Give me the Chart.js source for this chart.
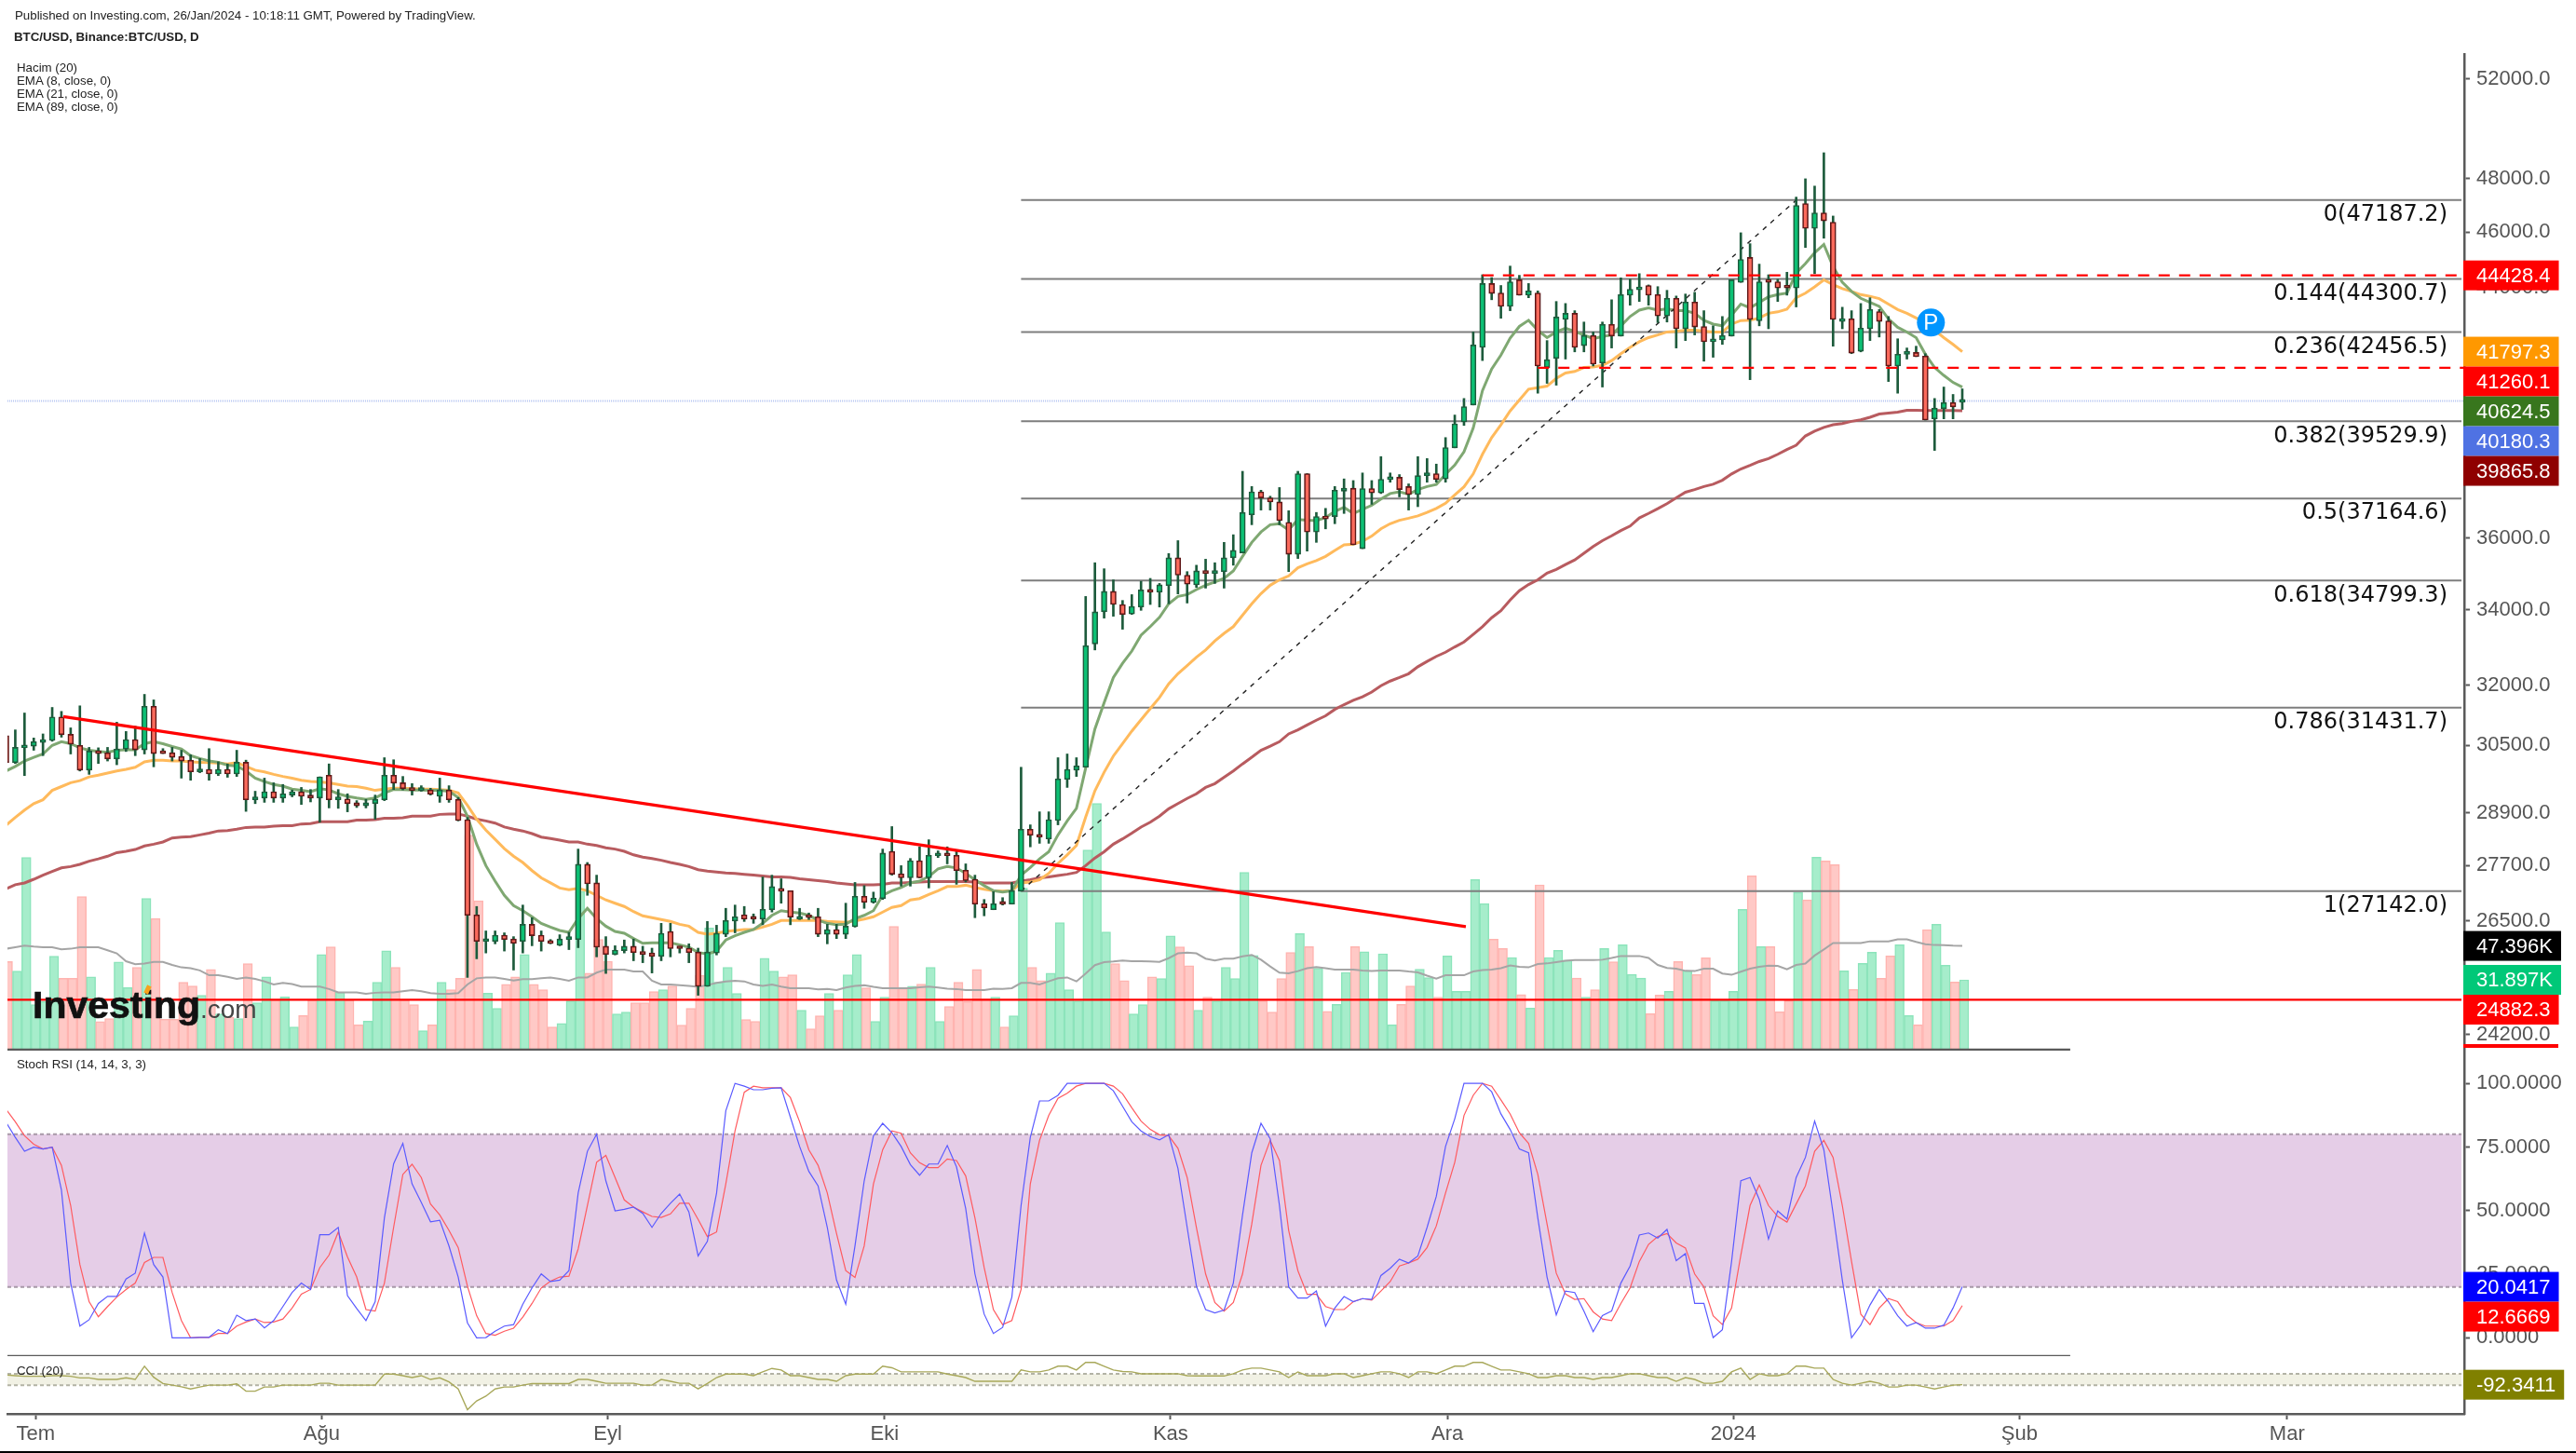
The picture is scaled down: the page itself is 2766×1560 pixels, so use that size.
<!DOCTYPE html>
<html>
<head>
<meta charset="utf-8">
<title>BTC/USD</title>
<script src="https://cdn.jsdelivr.net/npm/chart.js@4/dist/chart.umd.js"></script>
<style>
  html, body { margin: 0; padding: 0; background: #fff; }
  #page { position: relative; width: 2766px; height: 1560px; overflow: hidden; background: #fff; font-family: "Liberation Sans", Arial, sans-serif; }
  canvas { position: absolute; left: 0; }
  #chart-price { top: 0; }
  #chart-stoch { top: 1128px; }
  #chart-cci { top: 1456px; }
  .note { position: absolute; left: 18px; font-size: 13.3px; line-height: 14px; color: #222; white-space: nowrap; }
  .logo { position: absolute; left: 35px; top: 1059px; line-height: 40px; white-space: nowrap; color: #111; font-size: 41px; font-weight: bold; -webkit-text-stroke: 0.7px #111; filter: blur(0.6px); }
  .logo span { font-size: 28px; font-weight: normal; color: #444; -webkit-text-stroke: 0; }
  .logo-mark { position: absolute; left: 156px; top: 1058px; width: 5px; height: 9px; background: #f7a21b; transform: rotate(25deg); }
  #bottom-line { position: absolute; left: 0; top: 1558px; width: 2766px; height: 2px; background: #000; }
</style>
</head>
<body>
<div id="page">
  <canvas id="chart-price" width="2766" height="1128"></canvas>
  <canvas id="chart-stoch" width="2766" height="328"></canvas>
  <canvas id="chart-cci" width="2766" height="104"></canvas>
  <div class="note" style="left:16px;top:10px">Published on Investing.com, 26/Jan/2024 - 10:18:11 GMT, Powered by TradingView.</div>
  <div class="note" style="left:15px;top:33px;font-weight:bold">BTC/USD, Binance:BTC/USD, D</div>
  <div class="note" style="top:66px">Hacim (20)</div>
  <div class="note" style="top:80px">EMA (8, close, 0)</div>
  <div class="note" style="top:94px">EMA (21, close, 0)</div>
  <div class="note" style="top:108px">EMA (89, close, 0)</div>
  <div class="note" style="top:1136px">Stoch RSI (14, 14, 3, 3)</div>
  <div class="note" style="top:1465px">CCI (20)</div>
  <div class="logo">Investing<span>.com</span></div>
  <div class="logo-mark"></div>
  <div id="bottom-line"></div>
</div>

<script>
/* ── Data ────────────────────────────────────────────── */
// day numbers count from 1 Jul 2023, first bar is 28 Jun
const firstDay = -3;

const opens = [
  30740,30080,30440,30480,30570,30620,31200,30770,30500,29900,
  30360,30320,30170,30410,30640,30390,31470,30330,30320,30230,
  30140,29860,29920,29810,29920,29810,30090,29200,29240,29390,
  29240,29310,29390,29310,29240,29780,29200,29220,29130,29060,
  29110,29200,29780,29600,29470,29420,29430,29280,29430,29210,
  28740,26630,26070,26070,26200,26120,26070,26430,26200,26080,
  25990,26110,26110,27730,27320,25970,25800,25880,25970,25860,
  25830,25760,26280,25930,25930,25850,25150,25830,26220,26500,
  26630,26560,26540,26740,27190,27150,26540,26600,26590,26220,
  26320,26220,26380,27030,26900,26980,28020,27520,27430,27810,
  27430,27920,27980,27930,27600,27400,26870,26740,26880,26860,
  27140,28520,28390,28300,28720,29680,29900,29970,33080,33940,
  34500,34140,33880,34070,34550,34480,34660,35440,34950,34680,
  35080,35000,35050,35440,35580,36680,37360,37180,37060,36460,
  35540,37910,36180,36640,36630,37380,37470,35700,37460,37330,
  37730,37800,37520,37280,37850,37910,37750,38700,39510,40050,
  41940,44140,43810,43340,44270,43730,43810,41270,41570,42890,
  43100,42000,42340,41420,42720,42320,43730,43920,44070,43750,
  43010,43620,42570,43490,42650,42130,42190,42320,44180,45070,
  42840,44200,44200,44020,43980,47060,46130,46710,46360,42820,
  42910,41810,42570,43160,42840,41320,41710,41770,41650,39610,
  39930,40130,40140
];
const closes = [
  30080,30450,30510,30590,30640,31200,30760,30530,29900,30360,
  30300,30170,30410,30640,30390,31470,30300,30300,30210,30120,
  29860,29920,29810,29920,29810,30090,29200,29260,29390,29240,
  29340,29390,29280,29240,29740,29200,29210,29110,29060,29130,
  29210,29780,29590,29460,29420,29440,29330,29430,29200,28720,
  26620,26070,26120,26200,26110,26030,26430,26190,26070,26030,
  26120,26130,27730,27300,25950,25800,25890,25970,25840,25800,
  25760,26240,25920,25920,25840,25150,25850,26240,26510,26590,
  26540,26540,26750,27240,27140,26580,26600,26570,26220,26320,
  26220,26390,27030,26900,26990,27980,27510,27430,27810,27430,
  27930,27980,27920,27590,27370,26860,26780,26870,26860,27150,
  28520,28380,28340,28740,29690,29920,30000,33030,33940,34500,
  34140,33870,34090,34540,34480,34680,35440,34950,34700,35070,
  35000,35080,35440,35650,36750,37360,37180,37060,36510,35540,
  37910,36180,36630,36560,37410,37470,35810,37460,37330,37740,
  37800,37430,37280,37850,37910,37730,38710,39450,40000,42020,
  44140,43790,43340,44200,43730,43880,41320,41530,42970,43100,
  41940,42340,41380,42720,42320,43750,43940,44010,43730,43010,
  43620,42570,43490,42630,42130,42210,42340,44270,45000,42890,
  44200,44180,43980,43980,46990,46130,46710,46410,42890,42910,
  41750,42590,43230,42820,41320,41710,41770,41630,39570,39950,
  40130,39990,40180
];
const highs = [
  30740,30880,31300,30680,30780,31440,31340,30930,31480,30450,
  30440,30450,31070,30840,30970,31770,31630,30420,30450,30380,
  30270,30180,30420,30100,30050,30380,30140,29400,29710,29600,
  29560,29430,29490,29440,29740,30050,29440,29340,29180,29210,
  29310,30200,30150,29750,29580,29530,29470,29710,29530,29250,
  28790,26810,26290,26290,26250,26170,26840,26570,26290,26110,
  26210,26260,28070,27770,27490,26170,25980,26100,26120,25970,
  25930,26450,26450,25970,26020,25930,26490,26410,26770,26840,
  26810,26650,27450,27490,27410,27150,26770,26670,26770,26430,
  26430,26880,27330,27260,27120,28070,28580,27700,27860,28120,
  28280,28030,28120,28030,27740,27490,26960,27130,27000,27330,
  29970,28620,28920,28920,30200,30290,30200,34360,35300,35130,
  34820,34250,34410,34780,34860,34720,35560,35930,35050,35230,
  35400,35300,35880,36100,37980,37520,37410,37230,37490,36800,
  37980,37910,36750,36870,37520,37750,37700,37930,37700,38430,
  37930,37880,37600,38430,38370,38200,39020,39730,40260,42460,
  44450,44350,44070,44760,44430,44140,43880,42170,43510,43440,
  43190,42800,42460,42800,43570,44340,44290,44490,44090,44030,
  43900,43700,43770,43830,43190,42670,42990,44270,45970,45570,
  44830,44450,44290,44540,47300,48000,47720,49010,46590,43310,
  43190,43440,43640,43230,42990,42230,41920,41980,41730,40260,
  40630,40390,40570
];
const lows = [
  30080,30060,29770,30380,30250,30600,30700,30290,29880,29800,
  30060,30120,30030,30350,30250,30290,29980,30300,30120,29710,
  29660,29840,29660,29770,29730,29750,28930,29110,29140,29140,
  29140,29270,29090,29150,28680,29010,29000,28920,29020,29010,
  28750,29180,29440,29430,29310,29400,29310,29140,29140,28710,
  25330,25710,25830,26020,25870,25480,25830,25980,25870,26020,
  25980,25900,25940,27050,25750,25410,25790,25830,25670,25630,
  25420,25670,25750,25830,25630,24970,25150,25790,26170,26250,
  26490,26450,26420,26690,26880,26420,26530,26530,26170,26020,
  26130,26130,26370,26770,26880,26960,27490,27250,27250,27430,
  27210,27880,27740,27290,27340,26570,26610,26740,26840,26860,
  27140,28120,28200,28200,28620,29490,29750,29970,32920,33770,
  33820,33470,33870,33980,34140,34070,34160,34430,34180,34610,
  34590,34720,34590,35230,35580,36390,36820,36820,36390,35050,
  35420,35630,35880,36270,36420,36720,35810,35700,36990,37310,
  37650,37210,36820,36920,37650,37650,37650,38700,39400,40050,
  41500,43570,42930,43190,43730,43640,40430,40750,40690,41550,
  41790,41790,41320,40630,41920,42320,43380,43510,43380,42780,
  42800,41920,42170,42360,41480,41610,42040,42320,44180,40870,
  42670,42570,43510,43730,43320,45430,44490,45770,41980,42570,
  41730,41790,42170,42290,40810,40430,41550,41630,39570,38620,
  39610,39610,39910
];
// thousands
const volumes = [
  40.3,35.9,87.8,20.6,22,42.7,32.6,32.6,69.9,33.3,
  12.8,14.2,40.1,28.4,37.6,69.1,59.9,13.9,13.9,30.8,
  29.1,24.8,36.7,16.3,14.9,14.2,39.3,21.4,33.3,22.7,
  24.1,10.4,15.6,22.7,43.5,47,26.2,22.7,11.3,13,
  30.8,45.2,37.6,22.7,20.6,8.7,11.3,30.8,27.4,32.6,
  98,68,25.8,18.9,29.9,33.3,43.5,29.9,27.4,10.4,
  12,22.3,72.3,35,50.4,40.4,16.3,17.2,21.4,21.4,
  26.5,27.4,29.1,11.2,18.9,34,55.6,30.8,37.6,25.7,
  13.8,12.9,41.8,35.9,33.3,34.2,18,9.5,15.5,25.7,
  18,34.2,43.5,28.2,12.9,24,56.3,28,29,30,
  37.6,12.9,19.7,30.8,22,36.7,23.1,24,10.4,15.5,
  73.8,37.6,31.6,35,58,27.4,22.3,91.2,112.5,53.8,
  39.3,31.6,16.3,20.6,33.3,32.5,52,47,38.4,18,
  24,22.3,37.6,32.5,81,43,22.3,17.2,32.5,44.4,
  53,47.1,37.2,17.5,20.7,35.3,47.1,44.7,23.1,43.8,
  11.3,20.7,29.1,36.8,32.9,24,42.8,26.7,26.7,77.7,
  66.7,50.5,46.2,42.1,25.2,19,75.3,42.1,45.4,40.9,
  32.7,24,27.4,46.2,40.2,47.9,34.4,32.7,16.5,25,
  26.7,40.3,36,34.3,42,22.4,22.4,26.7,64.1,79.4,
  47.1,47.1,17.3,22.4,71.8,68.4,87.9,86.2,84.5,36,
  27.5,39.4,44.5,32.6,42.8,47.9,15.6,11.3,54.8,57.3,
  38.6,30.9,31.9
];
const volumeMA = [
  46.1,46.8,47.5,47.1,46.8,46.8,45.8,46.1,46.8,46.8,
  46.8,45.4,44,40.4,39,39.3,40.1,40.1,38.7,37.6,
  37.2,36.2,34,34,33.3,32.3,33,32.3,31.2,29.8,
  30.5,30,28.8,28.8,28.8,27.7,26.2,26.2,26.2,25.5,
  26,26.2,26.2,26.7,27.2,26.7,25.8,25.5,25.5,25.8,
  29.8,32.6,33,33,32.3,31.6,32.2,32.2,32.6,33,
  32.3,31.5,33,33,35.2,36.6,36.6,36.6,35.7,35.7,
  31.5,29.8,29.8,29.5,29.1,28.7,29.5,30.5,31.2,31.5,
  31.2,29.8,29.1,29.8,28.8,28.1,28.1,28.1,27.5,27.7,
  27.2,28.4,29.1,29.4,28.7,28.1,28.1,28.1,28.1,28.5,
  28.8,28.4,27.9,27.7,27.2,27.2,27.2,27.9,27.8,28.1,
  30.5,30.5,29.8,31.2,32.6,33,31.2,34.8,38.6,40,
  40.3,40.7,40.4,40.4,40.3,40.1,41.8,44,44.3,44,
  41.6,40.7,41.6,41.6,42.6,43.3,41.1,38,35.2,34.9,
  35.9,37.2,37.7,37.2,36.6,36.6,36.6,36.2,35.9,36.2,
  36.2,36.2,35.7,35.3,33.8,32.5,34,34,34,35.7,
  36.4,36.6,37.2,38.5,37.9,37.6,39.1,39.4,40,40.6,
  40.9,40.9,40.9,41.1,41.9,42.8,42.8,42.8,41.9,38.7,
  37.3,37,36,35.9,37,37,34.8,34.2,35.6,37,
  37.9,38.4,38.3,36.7,38.7,39.3,43,45.8,48.7,48.7,
  48.7,48.7,49.5,49.5,49.5,50.4,50.4,49.2,48.2,47.8,
  47.7,47.5,47.4
];
const ema8 = [
  29880,29990,30120,30210,30290,30500,30590,30540,30440,30380,
  30350,30330,30380,30390,30390,30540,30590,30540,30470,30410,
  30250,30180,30120,30090,30020,30000,29880,29710,29630,29560,
  29520,29450,29420,29390,29460,29430,29340,29280,29240,29210,
  29240,29360,29440,29440,29430,29430,29420,29420,29400,29250,
  28820,28180,27700,27360,27050,26830,26720,26590,26450,26370,
  26300,26260,26550,26770,26550,26390,26280,26240,26130,26030,
  26040,26040,26040,26000,25950,25840,25810,25870,26100,26190,
  26260,26320,26450,26620,26720,26690,26670,26620,26520,26450,
  26420,26430,26550,26620,26720,27050,27150,27220,27320,27360,
  27460,27630,27680,27650,27530,27390,27260,27150,27120,27150,
  27490,27660,27850,28010,28390,28710,29000,29950,30900,31560,
  32200,32570,32890,33310,33540,33790,34160,34360,34410,34550,
  34670,34760,34860,35070,35480,35880,36180,36390,36420,36240,
  36540,36520,36510,36600,36780,36900,36720,36840,36960,37150,
  37310,37360,37290,37430,37520,37580,37890,38170,38580,39320,
  40510,41220,41680,42250,42650,42860,42520,42270,42460,42590,
  42480,42360,42230,42310,42360,42670,42990,43210,43290,43210,
  43260,43190,43190,43100,42860,42730,42670,43040,43420,43290,
  43480,43670,43750,43800,44510,44850,45240,45540,44740,44180,
  43860,43620,43480,43340,42910,42620,42460,42270,41710,41270,
  41010,40780,40625
];
const ema21 = [
  28610,28790,28960,29110,29200,29420,29510,29600,29650,29740,
  29780,29830,29880,29920,29970,30100,30140,30140,30120,30120,
  30100,30090,30080,30070,30050,30080,29990,29900,29860,29800,
  29750,29710,29660,29630,29620,29600,29560,29520,29510,29470,
  29420,29450,29470,29470,29460,29450,29450,29440,29420,29360,
  29070,28750,28500,28290,28080,27910,27770,27590,27430,27320,
  27210,27170,27200,27150,27050,26950,26880,26810,26700,26610,
  26570,26530,26490,26430,26390,26260,26220,26240,26280,26300,
  26320,26320,26370,26430,26510,26510,26510,26510,26510,26490,
  26480,26470,26500,26540,26590,26690,26790,26830,26950,26980,
  27070,27150,27240,27240,27270,27220,27180,27150,27140,27150,
  27320,27340,27390,27530,27750,27940,28150,28800,29410,29850,
  30240,30540,30850,31130,31410,31690,32040,32300,32510,32730,
  32920,33160,33360,33540,33850,34160,34440,34670,34820,34930,
  35160,35270,35360,35480,35650,35810,35830,35910,36060,36270,
  36420,36520,36580,36650,36750,36870,37020,37270,37510,37900,
  38500,39020,39420,39860,40210,40560,40610,40660,40910,41090,
  41140,41270,41290,41340,41500,41730,41940,42130,42270,42360,
  42460,42480,42520,42520,42490,42460,42460,42730,42850,42860,
  42940,43100,43150,43240,43640,43800,44020,44270,44100,43960,
  43860,43750,43690,43610,43420,43230,43100,42940,42730,42520,
  42270,42040,41797
];
const ema89 = [
  27190,27280,27320,27400,27490,27570,27650,27680,27730,27800,
  27850,27910,27990,28020,28060,28140,28180,28230,28320,28340,
  28350,28390,28430,28480,28490,28520,28560,28570,28570,28590,
  28600,28600,28640,28650,28690,28690,28690,28690,28730,28730,
  28740,28770,28770,28780,28820,28820,28820,28860,28870,28870,
  28820,28750,28710,28660,28570,28520,28480,28420,28340,28310,
  28270,28230,28230,28180,28150,28100,28070,28020,27940,27890,
  27860,27820,27770,27730,27680,27610,27580,27560,27540,27530,
  27510,27490,27470,27450,27450,27440,27410,27390,27370,27350,
  27320,27300,27280,27280,27280,27290,27320,27320,27330,27340,
  27350,27350,27350,27350,27350,27340,27320,27320,27320,27320,
  27360,27390,27430,27450,27480,27510,27550,27700,27870,28010,
  28180,28300,28430,28570,28680,28820,28990,29110,29230,29340,
  29490,29580,29730,29880,30050,30210,30380,30480,30590,30780,
  30880,31000,31120,31230,31390,31510,31620,31710,31830,31990,
  32110,32200,32300,32480,32620,32750,32860,33000,33130,33330,
  33540,33780,33970,34260,34520,34690,34820,35010,35110,35250,
  35380,35570,35760,35930,36070,36220,36350,36590,36720,36860,
  37010,37180,37350,37430,37520,37590,37710,37900,38050,38160,
  38280,38370,38500,38650,38780,39070,39220,39340,39420,39460,
  39530,39580,39660,39760,39790,39820,39880,39880,39870,39870,
  39870,39870,39866
];
const stochK = [
  84.7,78.8,73.3,74.9,74.2,74.9,58.1,21.5,4.6,7.1,
  13.5,16.3,16.3,23.1,25.4,41.2,28.8,23.9,0,0,
  0,0.2,0.2,3.2,1.7,8.9,6.8,7.4,3.9,6.8,
  12.3,17.8,21.5,19,40.5,40.5,43.4,16.6,11.5,6.8,
  14.2,47.1,68.4,76.4,60.5,53.2,45.6,46.2,36.1,23.9,
  5.9,0,0.1,2.6,4.6,5.2,13.2,19.6,25.1,22.1,
  22.7,26.4,56.9,73.3,80,61.7,49.9,50.5,51.4,48.9,
  43.4,48.9,52.9,56.5,49.5,32.2,37.9,56.9,89.2,100,
  98.9,97.5,97.5,98.1,98.3,86.7,75.2,65.4,59.7,43.4,
  22.7,13.2,36.1,61.7,79.4,84.3,80.6,75.2,68.1,63.9,
  68.3,68.3,75.6,67.2,50.8,25.1,9.3,1.7,4.1,16,
  52,78.8,93.1,93.1,95.3,100,100,100,100,100,
  97.1,91,84.9,81.3,79.1,77.8,79.8,66.6,43.4,20.3,
  11.1,9.8,10.9,21.5,48.3,72.7,84.3,78.2,52,20,
  15.6,15.6,18.4,4.6,11.7,16.2,14.2,15.4,15.1,24.5,
  27.3,30.9,29.4,32.2,43.4,55.6,75.2,86.1,100,100,
  100,96.7,88,81.9,74.2,72.7,47.1,23.9,9,18.4,
  17.8,10.5,2.4,8.7,10.5,21.5,28.2,40.4,41.2,39.2,
  42.6,30.3,33.1,13.5,13.5,0.1,3.2,30,61.7,63,
  54.4,38.8,49.9,46.7,63,70.9,85.2,73.9,48.9,22.7,
  0,5,12.9,19,14.2,8.7,4.6,6,3.8,3.8,
  5,11.7,20.04
];
const stochD = [
  89.8,84.9,79.4,76.1,74.2,74.9,67.8,52,28.8,14.2,
  8.3,12.3,16,19,21.5,29.6,31.6,31.6,17.8,6.8,
  0,0.2,0.2,1.7,1.7,4.6,6.2,7.4,6,6.2,
  7.4,11.7,17.2,19,27.6,32.5,41.6,31.8,23.9,11.1,
  10.5,21.5,43.4,64.2,68.2,63,52.6,48.3,42.2,35.5,
  20.3,8.7,1.7,1,2.6,3.8,8.1,13.5,19.6,22.3,
  23.9,24.2,34.9,52,69,71.7,63,54.2,51.4,49.5,
  47.7,47.3,48.7,52.9,52.9,46.5,39.8,41.6,60.5,81.3,
  96.5,98.9,98.3,98.3,98.3,94.4,84.9,73.9,67.8,56.9,
  41,26.4,23.7,36.1,60.5,73.9,81.3,80.4,72.7,68.8,
  66.9,66.9,70.3,69.7,63.6,47.1,27.6,11.1,5.2,6.8,
  19,60.5,77.6,87.4,94.1,96.1,98.9,100,100,100,
  98.9,95.9,90.4,85.2,81.9,79.8,79.4,74.5,63,43.4,
  25.1,13.9,10.5,13.9,25.1,44.7,67.8,77.6,69.7,42.2,
  26.4,17.1,17.1,12.3,11.1,11.1,14.2,15.4,14.8,18.4,
  22.1,28.2,29.4,30.9,35.5,44,56.9,69,87.4,95.3,
  100,98.9,93.5,88,80.6,76.4,64.2,44.7,25.4,17.2,
  15.1,15.4,10.2,7.4,6.8,13.5,19.6,30,36.7,39.8,
  41,37.3,35.3,25.1,20,8.7,5.2,11.7,32.5,52,
  60.1,52,47.7,45.5,52.6,59.7,73.3,77.6,70.9,52,
  30,9.3,5.2,11.7,15.4,14.2,9,6,4.6,4.6,
  4.6,6.8,12.67
];
const cci = [
  78,67,56,56,56,67,67,56,28,28,
  0,0,0,28,0,233,39,-72,-100,-128,
  -167,-133,-100,-100,-100,-78,-206,-206,-133,-133,
  -100,-100,-100,-100,-67,-67,-100,-100,-100,-100,
  -100,94,94,67,33,67,0,28,-44,-167,
  -533,-378,-294,-167,-133,-133,-100,-72,-72,-72,
  -72,-72,0,0,-33,-67,-67,-67,-67,-100,
  -100,0,-33,-67,-67,-167,-72,33,94,94,
  94,67,133,194,167,67,67,33,0,0,
  -33,67,94,94,94,233,206,133,133,133,
  133,133,94,67,33,-33,-33,-33,-33,-33,
  167,133,133,167,233,233,167,300,300,233,
  167,139,133,100,100,100,100,100,67,61,
  61,61,61,100,167,200,200,167,133,33,
  133,67,67,67,100,100,33,67,100,133,
  133,100,33,133,133,100,167,233,233,300,
  300,233,167,167,133,100,33,33,67,67,
  33,33,0,33,33,67,100,100,67,33,
  33,-33,33,0,-67,-67,-33,133,200,0,
  100,67,67,100,233,233,200,200,0,-67,
  -100,-67,-33,-67,-133,-133,-100,-100,-133,-167,
  -133,-100,-92.34
];

const fibRatios = ['0', '0.144', '0.236', '0.382', '0.5', '0.618', '0.786', '1'];
const fibPrices = [47187.2, 44300.7, 42456.5, 39529.9, 37164.6, 34799.3, 31431.7, 27142.0];

const priceTicks = [52000, 48000, 46000, 44000, 36000, 34000, 32000, 30500, 28900, 27700, 26500, 24200];
const stochTicks = [100, 75, 50, 25, 0];
const xTickDays = [0, 31, 62, 92, 123, 153, 184, 215, 244];
const xTickLabels = ['Tem', 'Ağu', 'Eyl', 'Eki', 'Kas', 'Ara', '2024', 'Şub', 'Mar'];

// drawn lines, as [day, price]
const trendFrom = [3, 31210];
const trendTo = [155, 26380];
const fibDiagonalFrom = [107, 27142];
const fibDiagonalTo = [191, 47187.2];
const resistance = 44428.4;
const resistanceFromDay = 157;
const support = 41260.1;
const supportFromDay = 163;
const lastPrice = 40180.3;
const lowLine = 24882.3;
const markerAt = [205.4, 42780];

/* ── Style ───────────────────────────────────────────── */
const RED = '#ff0000';
const AXIS = '#5a5a5a';
const FONT = '"Liberation Sans", Arial, sans-serif';

// x range of the plot, in days. Candles sit a little left of the day mark, as in the source
const xMin = -3.05, xMax = 263.2, candleShift = -0.2, fibEnd = 262.9, paneEdgeEnd = 220.5;
const priceMin = 23906, priceMax = 53040, volumeMax = 454.7;
const stochMin = -7.2, stochMax = 112.5, cciMin = -606, cciMax = 394;

const TAG_H = 32;

Chart.defaults.font.family = FONT;

/* ── Helpers ─────────────────────────────────────────── */
const dayOf = i => firstDay + i + candleShift;
const series = arr => arr.map((v, i) => ({ x: dayOf(i), y: v }));
const isUp = i => closes[i] >= opens[i];

function lineSet(data, color, width, order, extra) {
  return Object.assign({ type: 'line', data, borderColor: color, borderWidth: width, pointRadius: 0, tension: 0, fill: false, order }, extra);
}
function hLine(y, from, to, color, width, order, extra) {
  return lineSet([{ x: from, y }, { x: to, y }], color, width, order, extra);
}

function xAxis(showLabels) {
  return {
    type: 'linear', min: xMin, max: xMax, bounds: 'data', offset: false,
    display: showLabels,
    position: 'bottom',
    border: { display: true, color: AXIS, width: 2.5 },
    grid: { offset: false, drawOnChartArea: false, drawTicks: true, tickLength: 6, tickColor: AXIS, tickWidth: 2 },
    ticks: {
      autoSkip: false, maxRotation: 0, padding: 3, color: '#555', font: { size: 22 },
      callback: v => xTickLabels[xTickDays.indexOf(v)]
    },
    afterBuildTicks: axis => { axis.ticks = xTickDays.map(value => ({ value })); },
    afterFit: axis => {
      axis.height = showLabels ? 42 : 0;
      axis.paddingLeft = axis.paddingRight = 0;
    }
  };
}

function yAxis(type, min, max, tickValues, format) {
  return {
    type, min, max, bounds: 'data', position: 'right',
    border: { display: true, color: AXIS, width: 2.5 },
    grid: { drawOnChartArea: false, drawTicks: true, tickLength: 6, tickColor: AXIS, tickWidth: 2 },
    ticks: { autoSkip: false, padding: 7, color: '#555', font: { size: 22 }, callback: format, display: tickValues.length > 0 },
    afterBuildTicks: axis => { axis.ticks = tickValues.map(value => ({ value })); },
    afterFit: axis => {
      axis.width = 120;
      axis.paddingTop = axis.paddingBottom = 0;
    }
  };
}

function makeChart(id, datasets, scales, padding, plugins) {
  return new Chart(document.getElementById(id), {
    type: 'line',
    data: { datasets },
    options: {
      responsive: false, animation: false, devicePixelRatio: 1,
      layout: { padding, autoPadding: false },
      plugins: { legend: { display: false }, tooltip: { enabled: false }, title: { display: false } },
      events: [],
      scales
    },
    plugins
  });
}

// value tags on the right axis, pushed down so that they do not overlap
function tagPlugin(tags) {
  return {
    id: 'tags',
    afterDraw(chart) {
      const ctx = chart.ctx;
      const left = chart.chartArea.right - 1;
      let prev = -Infinity;
      ctx.save();
      ctx.font = '22px ' + FONT;
      ctx.textAlign = 'left';
      ctx.textBaseline = 'middle';
      tags.forEach(t => {
        const y = Math.max(chart.scales[t.axis].getPixelForValue(t.value), prev + TAG_H);
        prev = y;
        ctx.fillStyle = t.color;
        ctx.fillRect(left, y - TAG_H / 2, 14 + ctx.measureText(t.text).width + 9, TAG_H);
        ctx.fillStyle = '#fff';
        ctx.fillText(t.text, left + 14, y + 1);
      });
      ctx.restore();
    }
  };
}

// fib level captions and the letter of the marker
const priceNotes = {
  id: 'priceNotes',
  afterDatasetsDraw(chart) {
    const ctx = chart.ctx, y = chart.scales.y, x = chart.scales.x;
    ctx.save();
    ctx.fillStyle = '#111';
    ctx.font = '24px "DejaVu Sans", sans-serif';
    ctx.textAlign = 'right';
    ctx.textBaseline = 'middle';
    fibPrices.forEach((p, i) => {
      ctx.fillText(fibRatios[i] + '(' + p.toFixed(1) + ')', 2628, y.getPixelForValue(p) + 16);
    });
    ctx.fillStyle = '#fff';
    ctx.font = '24px ' + FONT;
    ctx.textAlign = 'center';
    ctx.fillText('P', x.getPixelForValue(markerAt[0]), y.getPixelForValue(markerAt[1]) + 1);
    ctx.restore();
  }
};

// the red stub that is cut off by the bottom of the price pane
const bottomStub = {
  id: 'bottomStub',
  afterDraw(chart) {
    chart.ctx.fillStyle = RED;
    chart.ctx.fillRect(chart.chartArea.right - 1, 1121, 102, 4);
  }
};

/* ── Price pane ──────────────────────────────────────── */
function renderPrice() {
  const volumeBars = {
    type: 'bar', yAxisID: 'yVol', grouped: false, order: 100,
    data: volumes.map((v, i) => ({ x: firstDay + i, y: v })),
    barThickness: 9.9, borderWidth: 1.5, borderSkipped: false,
    backgroundColor: volumes.map((_, i) => isUp(i) ? '#a6edcb' : '#ffc9c6'),
    borderColor: volumes.map((_, i) => isUp(i) ? '#8ce4bb' : '#ffb4b0')
  };
  const wicks = {
    type: 'bar', grouped: false, order: 50,
    data: highs.map((h, i) => ({ x: dayOf(i), y: [lows[i], h] })),
    barThickness: 2, backgroundColor: '#1d5b3c', borderWidth: 0
  };
  const bodies = {
    type: 'bar', grouped: false, order: 40,
    data: opens.map((o, i) => ({ x: dayOf(i), y: [o, closes[i]] })),
    barThickness: 6, minBarLength: 3, borderWidth: 1.6, borderSkipped: false,
    backgroundColor: opens.map((_, i) => isUp(i) ? '#0cc074' : '#fb6a5c'),
    borderColor: opens.map((_, i) => isUp(i) ? '#1d5b3c' : '#5e1616')
  };
  const fibLines = fibPrices.map(p => hLine(p, 107 + candleShift, fibEnd, '#7e7e7e', 2, 80));

  const datasets = [
    volumeBars,
    lineSet(series(volumeMA), '#a5a5a5', 2, 90, { yAxisID: 'yVol' }),
    hLine(lowLine, xMin, fibEnd, RED, 2.2, 85),
    ...fibLines,
    hLine(lastPrice, xMin, xMax, '#b9c8f2', 2, 78, { borderDash: [1, 1] }),
    lineSet(series(ema89), '#b85b5f', 3, 72),
    lineSet(series(ema21), '#ffba5c', 3, 71),
    lineSet(series(ema8), '#7fa872', 3, 70),
    lineSet([
      { x: fibDiagonalFrom[0] + candleShift, y: fibDiagonalFrom[1] },
      { x: fibDiagonalTo[0] + candleShift, y: fibDiagonalTo[1] }
    ], '#222', 1.4, 60, { borderDash: [5, 6] }),
    wicks,
    bodies,
    hLine(resistance, resistanceFromDay + candleShift, fibEnd, RED, 2.4, 30, { borderDash: [12, 10] }),
    hLine(support, supportFromDay + candleShift, xMax, RED, 2.4, 30, { borderDash: [12, 10] }),
    lineSet([
      { x: trendFrom[0], y: trendFrom[1] },
      { x: trendTo[0], y: trendTo[1] }
    ], RED, 3.2, 20),
    hLine(priceMin, xMin, paneEdgeEnd, AXIS, 2.5, 15, { clip: false }),
    lineSet([{ x: markerAt[0], y: markerAt[1] }], '#0095ff', 0, 10, { pointRadius: 15, pointBackgroundColor: '#0095ff', pointBorderWidth: 0, showLine: false })
  ];

  const tags = [
    { axis: 'y', value: 44428.4, text: '44428.4', color: RED },
    { axis: 'y', value: 41797.3, text: '41797.3', color: '#ff9800' },
    { axis: 'y', value: 41260.1, text: '41260.1', color: RED },
    { axis: 'y', value: 40624.5, text: '40624.5', color: '#38761d' },
    { axis: 'y', value: 40180.3, text: '40180.3', color: '#4f72e3' },
    { axis: 'y', value: 39865.8, text: '39865.8', color: '#8f0000' },
    { axis: 'yVol', value: 47.396, text: '47.396K', color: '#000' },
    { axis: 'yVol', value: 31.897, text: '31.897K', color: '#00c878' },
    { axis: 'y', value: 24882.3, text: '24882.3', color: RED }
  ];

  const scales = {
    x: xAxis(false),
    y: yAxis('logarithmic', priceMin, priceMax, priceTicks, v => v.toFixed(1)),
    yVol: { type: 'linear', min: 0, max: volumeMax, bounds: 'data', display: false, position: 'right', grid: { display: false } }
  };
  makeChart('chart-price', datasets, scales, { left: 8, right: 0, top: 58, bottom: 1 }, [priceNotes, tagPlugin(tags), bottomStub]);
}

/* ── Stoch RSI pane ──────────────────────────────────── */
function renderStoch() {
  const datasets = [
    hLine(80, xMin, fibEnd, '#a899a8', 2, 60, { borderDash: [4, 3], fill: { value: 20 }, backgroundColor: '#e5cde7' }),
    hLine(20, xMin, fibEnd, '#a899a8', 2, 59, { borderDash: [4, 3] }),
    lineSet(series(stochD), '#ff5a5f', 1.2, 20),
    lineSet(series(stochK), '#5a5aff', 1.2, 10),
    hLine(stochMin, xMin, paneEdgeEnd, AXIS, 2.5, 5, { clip: false })
  ];
  const tags = [
    { axis: 'y', value: 20.0417, text: '20.0417', color: '#0000ff' },
    { axis: 'y', value: 12.6669, text: '12.6669', color: RED }
  ];
  const scales = {
    x: xAxis(false),
    y: yAxis('linear', stochMin, stochMax, stochTicks, v => v.toFixed(4))
  };
  makeChart('chart-stoch', datasets, scales, { left: 8, right: 0, top: 1, bottom: 0 }, [tagPlugin(tags)]);
}

/* ── CCI pane ────────────────────────────────────────── */
function renderCci() {
  const datasets = [
    hLine(100, xMin, fibEnd, '#b3b3a5', 2, 60, { borderDash: [4, 3], fill: { value: -100 }, backgroundColor: '#f1f1e4' }),
    hLine(-100, xMin, fibEnd, '#b3b3a5', 2, 59, { borderDash: [4, 3] }),
    lineSet(series(cci), '#a8a85a', 1.4, 10)
  ];
  const tags = [{ axis: 'y', value: -92.3411, text: '-92.3411', color: '#808000' }];
  const scales = {
    x: xAxis(true),
    y: yAxis('linear', cciMin, cciMax, [], v => v)
  };
  scales.y.grid.drawTicks = false;
  makeChart('chart-cci', datasets, scales, { left: 8, right: 0, top: 1, bottom: 0 }, [tagPlugin(tags)]);
}

renderPrice();
renderStoch();
renderCci();
</script>
</body>
</html>
